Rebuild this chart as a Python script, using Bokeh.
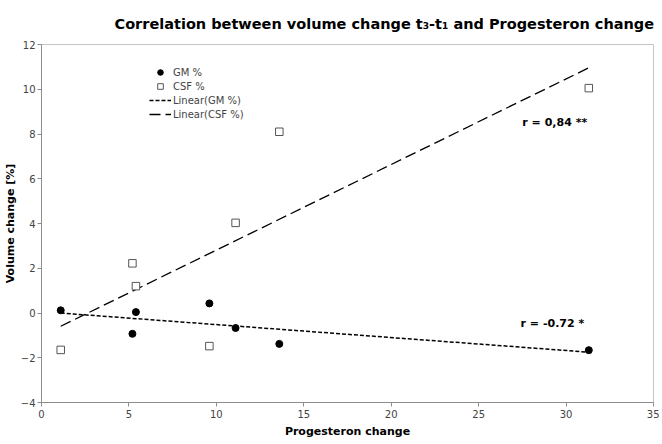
import numpy as np
from bokeh.plotting import figure
from bokeh.models import Label, Legend, LegendItem, Range1d, SingleIntervalTicker
from bokeh.embed import file_html
from bokeh.resources import INLINE

# data
progesteron = [1.1, 5.2, 5.4, 9.6, 11.1, 13.6, 31.3]
gm_pct = [0.12, -0.93, 0.04, 0.43, -0.67, -1.38, -1.66]
csf_pct = [-1.65, 2.22, 1.2, -1.48, 4.03, 8.1, 10.05]
title_text = "Correlation between volume change t\u2083-t\u2081 and Progesteron change"
r_csf = "r = 0,84 **"
r_gm = "r = -0.72 *"

FONT = "DejaVu Sans"

p = figure(frame_width=612, frame_height=358, output_backend="svg", toolbar_location=None,
           x_range=Range1d(0, 35), y_range=Range1d(-4, 12),
           min_border_left=29, min_border_right=6, min_border_bottom=0, min_border_top=0)
p.background_fill_color = "white"
p.border_fill_color = "white"
p.outline_line_color = "#c4c4c4"
p.outline_line_width = 1
p.xgrid.visible = False
p.ygrid.visible = False

p.title.text = title_text
p.title.text_font = FONT
p.title.text_font_size = "14.5px"
p.title.text_font_style = "bold"
p.title.text_color = "black"
p.title.align = "left"
p.title.offset = 73
p.title.standoff = 26

for ax in (p.xaxis[0], p.yaxis[0]):
    ax.axis_line_color = "#8c8c8c"
    ax.major_tick_line_color = "#8c8c8c"
    ax.major_tick_out = 4
    ax.major_tick_in = 0
    ax.minor_tick_line_color = None
    ax.major_label_text_font = FONT
    ax.major_label_text_font_size = "10px"
    ax.major_label_text_color = "#444444"
    ax.axis_label_text_font = FONT
    ax.axis_label_text_font_size = "11px"
    ax.axis_label_text_font_style = "bold"
    ax.axis_label_text_color = "black"
    ax.major_label_standoff = 3
    ax.axis_label_standoff = 4

p.xaxis[0].ticker = SingleIntervalTicker(interval=5)
p.yaxis[0].ticker = SingleIntervalTicker(interval=2)
p.xaxis.axis_label = "Progesteron change"
p.yaxis.axis_label = "Volume change [%]"
p.yaxis[0].axis_label_standoff = 1
p.yaxis[0].major_label_standoff = 2

# trend lines from least squares fit
x = np.array(progesteron)
xs = np.array([x.min(), x.max()])
gm_fit = np.polyfit(x, np.array(gm_pct), 1)
csf_fit = np.polyfit(x, np.array(csf_pct), 1)

gm_line = p.line(xs, np.polyval(gm_fit, xs), line_color="black", line_width=1.5, line_dash="4 2")
csf_line = p.line(xs, np.polyval(csf_fit, xs), line_color="black", line_width=1.3, line_dash="11 5")

gm_pts = p.scatter(progesteron, gm_pct, marker="circle", size=7, fill_color="black", line_color="black")
csf_pts = p.scatter(progesteron, csf_pct, marker="square", size=7.5, fill_color="white",
                    line_color="#555555", line_width=1)

legend = Legend(items=[
    LegendItem(label="GM %", renderers=[gm_pts]),
    LegendItem(label="CSF %", renderers=[csf_pts]),
    LegendItem(label="Linear(GM %)", renderers=[gm_line]),
    LegendItem(label="Linear(CSF %)", renderers=[csf_line]),
])
legend.location = (108, 281)
legend.border_line_color = None
legend.background_fill_alpha = 0
legend.label_text_font = FONT
legend.label_text_font_size = "10px"
legend.glyph_width = 22
legend.glyph_height = 14
legend.label_height = 14
legend.label_standoff = 2
legend.spacing = 0
legend.padding = 2
legend.margin = 0
p.add_layout(legend)

for txt, xx, yy in ((r_csf, 27.5, 8.5), (r_gm, 27.4, -0.45)):
    p.add_layout(Label(x=xx, y=yy, text=txt, text_font=FONT, text_font_size="11px",
                       text_font_style="bold", text_baseline="middle", text_color="black"))

open("out.html", "w").write(file_html(p, INLINE))
